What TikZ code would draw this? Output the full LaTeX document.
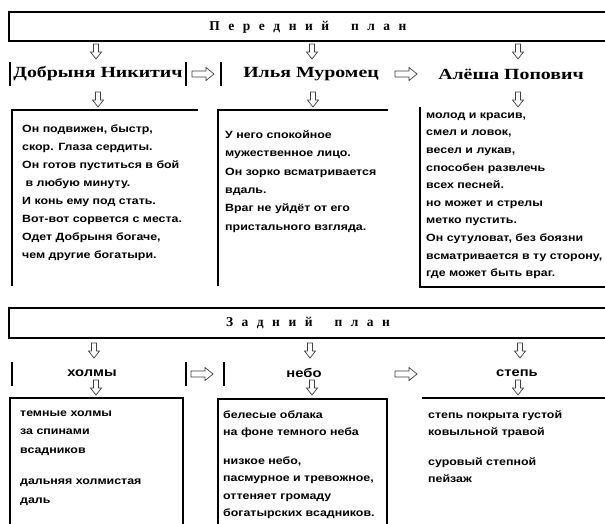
\documentclass[tikz,border=0pt]{standalone}
\usepackage{fontspec}
\setmainfont{Liberation Serif}
\newfontfamily\namefont[FakeStretch=1.28]{Liberation Serif}
\newfontfamily\arialf[FakeStretch=1.18]{Liberation Sans}
\newcommand{\topstrut}{\rule{0pt}{10pt}}
\begin{document}
\begin{tikzpicture}[x=1pt,y=-1pt,
  boxline/.style={line width=1.8pt,black},
  barline/.style={line width=1.3pt,black},
  arrline/.style={line width=0.7pt,black!75},
  titletext/.style={inner sep=0,font=\bfseries\fontsize{13.5}{15}\selectfont},
  nametext/.style={inner sep=0,font=\namefont\bfseries\fontsize{15.5}{18}\selectfont},
  subname/.style={inner sep=0,font=\arialf\bfseries\fontsize{12.5}{15}\selectfont},
  bodytext/.style={inner sep=0,anchor=north west,align=left,font=\arialf\bfseries\fontsize{10.5}{18}\selectfont},
  darr/.pic={\draw[arrline] (-2.5,0) -- (-2.5,8) -- (-5.5,8) -- (0,15) -- (5.5,8) -- (2.5,8) -- (2.5,0) -- cycle;},
  rarr/.pic={\draw[arrline] (0,-3) -- (14,-3) -- (14,-6.5) -- (22,0) -- (14,6.5) -- (14,3) -- (0,3) -- cycle;}
]
\useasboundingbox (0,0) rectangle (605,523);
\fill[white] (0,0) rectangle (605,523);

% ---------- foreground ----------
\draw[boxline] (9,12) rectangle (608,41);
\node[titletext] (t1) at (308,27) {\spaceskip=8.5pt П е р е д н и й\hspace{22pt}п л а н};

\pic at (96,44) {darr};
\pic at (312,44) {darr};
\pic at (518,44) {darr};

\draw[barline] (10,62) -- (10,86);
\node[nametext] (dob) at (98,74) {Добрыня Никитич};
\draw[barline] (186,62) -- (186,86);
\pic at (192,74) {rarr};
\draw[barline] (221,62) -- (221,86);
\node[nametext] (ily) at (311,74) {Илья Муромец};
\pic at (395,74) {rarr};
\node[nametext] (ale) at (511,74) {Алёша Попович};

\pic at (98,92) {darr};
\pic at (313,92) {darr};
\pic at (518,92) {darr};

\draw[boxline] (12,286) -- (12,110) -- (198,110);
\draw[boxline] (218,286) -- (218,110) -- (388,110);
\draw[boxline] (420,107) -- (420,287) -- (608,287);

\node[bodytext] (tdob) at (22,122) {\topstrut Он подвижен, быстр,\\скор. Глаза сердиты.\\Он готов пуститься в бой\\\ в любую минуту.\\И конь ему под стать.\\Вот-вот сорвется с места.\\Одет Добрыня богаче,\\чем другие богатыри.};
\node[bodytext,font=\arialf\bfseries\fontsize{10.5}{18.4}\selectfont] (tily) at (225,128) {\topstrut У него спокойное\\мужественное лицо.\\Он зорко всматривается\\вдаль.\\Враг не уйдёт от его\\пристального взгляда.};
\node[bodytext,font=\arialf\bfseries\fontsize{10.5}{17.6}\selectfont] (tale) at (426,108) {\topstrut молод и красив,\\смел и ловок,\\весел и лукав,\\способен развлечь\\всех песней.\\но может и стрелы\\метко пустить.\\Он сутуловат, без боязни\\всматривается в ту сторону,\\где может быть враг.};

% ---------- background ----------
\draw[boxline] (9,308) rectangle (608,338);
\node[titletext] (t2) at (308,323) {\spaceskip=8.5pt З а д н и й\hspace{22pt}п л а н};

\pic at (94,343) {darr};
\pic at (310,343) {darr};
\pic at (520,343) {darr};

\draw[barline] (12,362) -- (12,386);
\node[subname] (hol) at (92,373) {холмы};
\draw[barline] (186,362) -- (186,386);
\pic at (191,374) {rarr};
\draw[barline] (224,362) -- (224,386);
\node[subname] (neb) at (304,373) {небо};
\pic at (395,374) {rarr};
\node[subname] (ste) at (517,373) {степь};

\pic at (96,380) {darr};
\pic at (312,380) {darr};
\pic at (518,380) {darr};

\draw[boxline] (10,530) -- (10,398) -- (183,398) -- (183,530);
\draw[boxline] (218,530) -- (218,399) -- (387,399) -- (387,530);
\draw[boxline] (422,398) -- (608,398);

\node[bodytext,font=\arialf\bfseries\fontsize{10.5}{18.5}\selectfont] (thol) at (20,406) {\topstrut темные холмы\\за спинами\\всадников\\[13pt]дальняя холмистая\\даль};
\node[bodytext,font=\arialf\bfseries\fontsize{10.5}{17.5}\selectfont] (tneb) at (223,408) {\topstrut белесые облака\\на фоне темного неба\\[11pt]низкое небо,\\пасмурное и тревожное,\\оттеняет громаду\\богатырских всадников.};
\node[bodytext,font=\arialf\bfseries\fontsize{10.5}{17.5}\selectfont] (tste) at (428,408) {\topstrut степь покрыта густой\\ковыльной травой\\[12pt]суровый степной\\пейзаж};
\end{tikzpicture}
\end{document}
